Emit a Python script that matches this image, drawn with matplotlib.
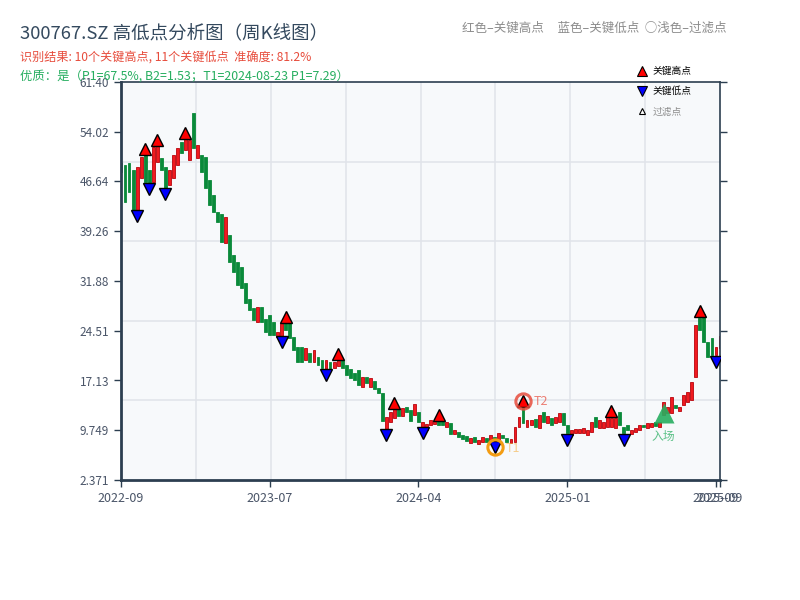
import matplotlib
matplotlib.use("Agg")
import matplotlib.pyplot as plt
from matplotlib.lines import Line2D
from matplotlib.transforms import offset_copy
import numpy as np

plt.rcParams['font.family'] = ['Noto Sans CJK SC', 'DejaVu Sans']

# ---------------- data (weekly candles) ----------------
opens = [49.4, 49.1, 49.4, 48.3, 42.4, 47.2, 50.6, 48.4, 46.6, 49.5,
         50.1, 48.8, 46.1, 47.2, 49.1, 52.5, 51.3, 49.8, 56.8, 50.1,
         50.6, 50.3, 46.9, 44.6, 42.1, 41.8, 37.5, 38.7, 35.7, 34.7,
         34.0, 31.6, 29.2, 27.9, 25.8, 28.0, 26.2, 26.8, 25.8, 23.6,
         23.7, 25.7, 25.7, 23.6, 22.1, 22.1, 20.2, 21.2, 19.9, 20.6,
         20.2, 18.8, 19.9, 19.0, 19.3, 20.2, 19.4, 18.9, 18.2, 18.7,
         16.1, 17.7, 16.1, 17.1, 16.0, 15.3, 9.9, 11.0, 11.6, 12.9,
         11.9, 13.2, 12.8, 12.0, 12.5, 10.2, 9.8, 10.5, 10.7, 11.1,
         11.4, 10.2, 10.8, 9.2, 9.5, 9.0, 8.9, 7.9, 8.7, 7.7,
         8.0, 8.6, 8.3, 8.7, 8.3, 9.0, 8.6, 7.9, 8.0, 10.2,
         13.0, 10.2, 10.5, 11.4, 10.1, 12.5, 10.8, 11.6, 10.8, 11.0,
         12.3, 10.5, 9.0, 9.3, 9.3, 9.3, 9.0, 9.5, 11.7, 10.1,
         10.1, 10.2, 10.2, 10.1, 12.5, 10.2, 10.5, 9.2, 9.5, 9.8,
         10.6, 10.1, 10.2, 10.9, 10.2, 12.0, 12.3, 12.3, 13.5, 12.6,
         13.5, 13.9, 14.2, 17.6, 26.4, 27.0, 22.8, 23.4, 20.9, 21.9]
closes = [48.0, 43.6, 45.1, 42.4, 48.8, 50.3, 46.6, 46.4, 51.8, 51.9,
          48.4, 45.7, 48.4, 50.6, 51.6, 50.9, 53.0, 52.8, 51.6, 52.1,
          48.0, 45.7, 43.2, 42.1, 40.6, 37.7, 41.4, 34.7, 33.2, 31.3,
          30.9, 28.6, 27.6, 26.1, 28.0, 25.8, 24.3, 23.9, 23.9, 24.3,
          25.7, 24.6, 23.4, 21.7, 19.9, 19.9, 21.9, 19.9, 21.6, 19.4,
          19.0, 20.2, 18.8, 19.9, 20.2, 19.0, 18.0, 17.5, 17.2, 16.5,
          17.7, 16.8, 17.5, 15.9, 15.3, 11.1, 11.7, 12.5, 12.9, 11.9,
          13.1, 12.5, 11.1, 13.6, 11.0, 10.9, 10.7, 11.3, 11.1, 10.5,
          10.6, 11.0, 9.2, 9.8, 8.7, 8.4, 8.1, 8.6, 8.0, 8.3,
          8.7, 8.0, 9.0, 8.2, 9.3, 8.6, 8.0, 8.5, 10.2, 11.7,
          10.8, 11.3, 11.3, 10.2, 12.0, 11.0, 11.9, 10.5, 11.7, 12.3,
          10.5, 9.3, 9.8, 9.9, 9.9, 10.1, 9.8, 11.0, 10.2, 11.3,
          11.0, 11.7, 11.6, 11.6, 10.5, 9.3, 9.8, 9.8, 10.1, 10.5,
          10.2, 10.8, 10.8, 10.4, 11.0, 13.9, 13.2, 14.7, 13.1, 13.2,
          15.0, 15.4, 16.9, 25.4, 24.6, 22.8, 20.6, 20.9, 22.1, 23.7]

high_idx = [6, 9, 16, 41, 54, 68, 79, 100, 122, 144]
high_val = [50.6, 51.9, 53.0, 25.7, 20.2, 12.9, 11.1, 13.2, 11.7, 26.5]
low_idx = [4, 7, 11, 40, 51, 66, 75, 93, 111, 125, 148]
low_val = [42.4, 46.4, 45.7, 23.7, 18.8, 9.9, 10.2, 8.2, 9.2, 9.2, 20.8]

t1_index, t1_value = 93, 8.2
t2_index, t2_value = 100, 13.2
entry_index, entry_value = 135, 12.3

tick_pos = [0, 37, 74, 111, 148, 149]
tick_labels = ['2022-09', '2023-07', '2024-04', '2025-01', '2025-09', '2025-09']
y_min, y_max = 2.3712, 61.396

title = '300767.SZ 高低点分析图（周K线图）'
line1 = '识别结果: 10个关键高点, 11个关键低点  准确度: 81.2%'
line2 = '优质：是（P1=67.5%, B2=1.53；T1=2024-08-23 P1=7.29）'
top_note = '红色–关键高点     蓝色–关键低点  ○浅色–过滤点'

# ---------------- figure ----------------
fig = plt.figure(figsize=(8, 6), dpi=100)
ax = fig.add_axes([121/800, 120/600, 599/800, 398/600])
ax.set_facecolor('#f7f9fb')

# grid (drawn in axes fractions)
for f in np.arange(1, 8) / 8:
    ax.plot([f, f], [0, 1], transform=ax.transAxes, color='#e0e4ea', lw=1.1, zorder=0.5)
for f in np.arange(1, 5) / 5:
    ax.plot([0, 1], [f, f], transform=ax.transAxes, color='#e0e4ea', lw=1.1, zorder=0.5)

o = np.array(opens)
c = np.array(closes)
x = np.arange(len(o))
up = c >= o
ax.bar(x[up], (c - o)[up], bottom=o[up], width=0.72, color='#f01a1f',
       edgecolor='#b8050d', linewidth=0.6, zorder=2)
ax.bar(x[~up], (c - o)[~up], bottom=o[~up], width=0.72, color='#0a8a3a',
       edgecolor='#0a8a3a', linewidth=0.6, zorder=2)

hi_tr = offset_copy(ax.transData, fig=fig, y=4.3, units='points')
lo_tr = offset_copy(ax.transData, fig=fig, y=-4.3, units='points')

ax.plot(high_idx, high_val, linestyle='none', marker='^', ms=8.5, mfc='#ff0000',
        mec='black', mew=1.0, transform=hi_tr, zorder=4)
ax.plot(low_idx, low_val, linestyle='none', marker='v', ms=8.5, mfc='#0000ff',
        mec='black', mew=1.0, transform=lo_tr, zorder=4)

# T1 / T2 circles
ax.plot([t1_index], [t1_value], marker='o', ms=11, mfc='none', mec='#f39c12',
        mew=2.2, transform=lo_tr, zorder=5)
ax.annotate('T1', (t1_index, t1_value), xycoords=lo_tr, xytext=(8, -1),
            textcoords='offset points', color='#f5b041', alpha=0.6, fontsize=9,
            va='center', ha='left')
ax.plot([t2_index], [t2_value], marker='o', ms=11, mfc='none', mec='#e74c3c',
        mew=2.2, alpha=0.85, transform=hi_tr, zorder=5)
ax.annotate('T2', (t2_index, t2_value), xycoords=hi_tr, xytext=(8, 0),
            textcoords='offset points', color='#e74c3c', alpha=0.7, fontsize=9,
            va='center', ha='left')

# entry marker
ax.plot([entry_index], [entry_value], marker='^', ms=15, color='#27ae60',
        mec='none', alpha=0.9, zorder=5)
ax.annotate('入场', (entry_index, entry_value), xytext=(0, -17),
            textcoords='offset points', color='#27ae60', alpha=0.75, fontsize=8.5,
            va='center', ha='center')

# axes styling
ax.set_xlim(0, len(o) - 1)
ax.set_ylim(y_min, y_max)
yt = np.linspace(y_min, y_max, 9)
ax.set_yticks(yt)
ax.set_yticklabels([f'{v:#.4g}' for v in yt])
ax.set_xticks(tick_pos)
ax.set_xticklabels(tick_labels)
for s in ax.spines.values():
    s.set_color('#2c3e50')
ax.spines['left'].set_linewidth(2.0)
ax.spines['bottom'].set_linewidth(2.0)
ax.spines['top'].set_linewidth(1.2)
ax.spines['right'].set_linewidth(1.2)
ax.tick_params(axis='y', direction='out', length=5, width=1, color='#2c3e50',
               labelcolor='#4a5568', labelsize=8.5, right=True)
ax.tick_params(axis='x', direction='out', length=5, width=1, color='#2c3e50',
               labelcolor='#4a5568', labelsize=9)

# texts
fig.text(20/800, 1 - 33/600, title, fontsize=13.3, color='#34495e', va='center', ha='left')
fig.text(20/800, 1 - 58/600, line1, fontsize=8.7, color='#e74c3c', va='center', ha='left')
fig.text(20/800, 1 - 76/600, line2, fontsize=8.9, color='#27ae60', va='center', ha='left')
fig.text(462/800, 1 - 28/600, top_note, fontsize=9, color='#8c8c8c', va='center', ha='left')

handles = [
    Line2D([], [], linestyle='none', marker='^', ms=7, mfc='#ff0000', mec='black', mew=0.8),
    Line2D([], [], linestyle='none', marker='v', ms=7, mfc='#0000ff', mec='black', mew=0.8),
    Line2D([], [], linestyle='none', marker='^', ms=5, mfc='white', mec='black', mew=0.8),
]
leg = fig.legend(handles, ['关键高点', '关键低点', '过滤点'], loc='upper left',
                 bbox_to_anchor=(638/800, 1 - 66/600), frameon=False, fontsize=7,
                 handlelength=0.8, handletextpad=0.7, labelspacing=1.05,
                 borderaxespad=0, borderpad=0)
leg.get_texts()[2].set_color('#8c8c8c')

fig.savefig('out.png', dpi=100)
